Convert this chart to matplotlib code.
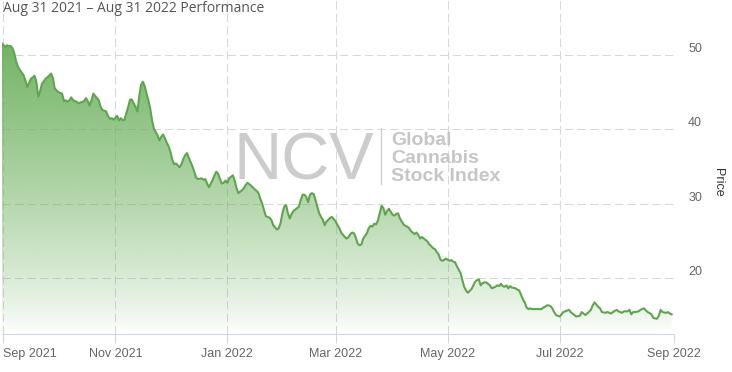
import numpy as np
import pandas as pd
import matplotlib
matplotlib.use("Agg")
import matplotlib.pyplot as plt
import matplotlib.dates as mdates
from matplotlib.patches import Polygon

# days after Aug 31 2021, one list row per stretch of the chart
day_offset = [
    0, 2, 3, 4, 5, 6, 7, 8, 9, 10, 12, 13, 14, 15, 16, 18, 19, 20, 21, 22, 24, 25, 27, 28, 29, 31, 33, 34, 35, 36,
    37, 38, 39, 41, 42, 43, 45, 46, 47, 48, 49, 50, 51, 52, 53, 54, 55, 57, 58, 59, 60, 61,
    63, 64, 65, 66, 67, 68, 69, 70, 71, 73, 74, 75, 76, 77, 78, 79, 80, 81, 82, 83, 85, 86, 87, 88, 89, 90, 91, 92,
    93, 94, 95, 97, 98, 99, 100, 101, 102, 103, 104, 105, 106, 107, 109, 110, 111, 112, 113, 114, 115, 116, 117,
    118, 119, 120, 121,
    122, 123, 124, 126, 127, 128, 129, 130, 131, 132, 133, 134, 135, 136, 138, 139, 140, 141, 142, 143, 144, 145,
    146, 147, 148, 150, 151, 152, 153, 154, 155, 156, 157, 158, 159, 160, 162, 163, 164, 165, 166, 167, 168, 169,
    170, 171, 172, 173, 175, 176, 177, 178, 179, 180, 181,
    182, 183, 184, 185, 187, 188, 189, 190, 191, 192, 193, 194, 195, 196, 197, 199, 200, 201, 202, 203, 204, 205,
    206, 207, 208, 209, 210, 211, 212, 213, 214, 215, 216, 217, 219, 220, 221, 222, 223, 224, 225, 226, 227, 228,
    229, 231, 232, 233, 234, 235, 236, 237, 238, 239, 240, 241,
    242, 244, 245, 246, 247, 248, 249, 250, 251, 252, 253, 254, 256, 257, 258, 259, 260, 261, 262, 263, 264, 265,
    266, 267, 269, 270, 271, 272, 273, 274, 275, 276, 277, 278, 280, 281, 282, 283, 284, 285, 286, 287, 288, 289,
    290, 292, 293, 294, 295, 296, 297, 298, 299, 300, 301, 302, 304,
    305, 306, 307, 309, 310, 312, 313, 315, 316, 318, 319, 321, 322, 323, 324, 325, 326, 327, 329, 330, 332, 333,
    335, 336, 338, 339, 341, 342, 343, 344, 345, 347, 348, 350, 351, 352, 354, 355, 357, 358, 359, 360, 362, 363,
    364, 365,
]

price = [
    51.6, 51.1, 51.3, 51.2, 51.2, 50.9, 50.2, 49.1, 48.4, 48.0, 47.3, 46.6, 45.7, 46.2, 46.8, 47.2, 46.4, 44.4, 45.1,
    46.1, 46.8, 47.0, 47.5, 46.9, 45.5, 45.0, 44.8, 43.8, 43.9, 43.7, 43.9, 44.3, 43.9, 43.7, 43.5, 43.6, 43.8,
    44.2, 43.8, 43.2, 43.9, 44.8, 44.5, 44.2, 43.9, 43.0, 42.6, 42.4, 41.8, 41.4, 41.5, 41.3,
    41.8, 41.2, 41.5, 41.2, 41.3, 42.2, 43.0, 44.0, 44.0, 43.0, 42.4, 44.4, 46.0, 46.4, 45.8, 44.8, 43.9, 42.8,
    41.2, 40.1, 39.2, 38.5, 39.0, 39.3, 38.8, 38.2, 37.7, 37.0, 35.9, 35.3, 35.4, 34.9, 35.3, 36.0, 36.5, 36.8,
    36.2, 35.6, 35.0, 34.3, 33.5, 33.3, 33.4, 33.2, 33.3, 32.7, 32.2, 32.7, 33.2, 33.8, 34.3, 34.0, 33.3, 32.7,
    32.8,
    33.1, 32.8, 33.4, 33.8, 33.1, 32.1, 31.4, 31.6, 31.8, 32.1, 32.5, 32.8, 32.6, 32.4, 31.9, 31.7, 31.4, 30.6,
    30.0, 29.1, 28.3, 28.2, 28.1, 27.8, 27.1, 26.5, 26.7, 27.4, 28.7, 29.6, 29.8, 28.7, 28.0, 28.6, 29.0, 29.2,
    29.6, 30.5, 31.2, 31.2, 30.9, 30.2, 31.2, 31.4, 31.3, 30.5, 29.6, 28.7, 27.8, 27.1, 27.6, 27.8, 28.1, 28.2,
    27.9,
    27.6, 27.1, 26.7, 26.1, 25.5, 25.3, 25.5, 25.9, 26.1, 26.0, 25.4, 24.6, 24.4, 24.5, 25.3, 26.0, 26.7, 27.0,
    26.9, 27.3, 27.2, 27.7, 28.7, 29.7, 29.4, 28.5, 29.0, 29.3, 28.9, 28.5, 28.4, 28.6, 28.7, 28.0, 27.2, 27.0,
    26.9, 26.7, 26.3, 26.1, 25.9, 26.1, 25.8, 25.3, 25.5, 25.1, 24.9, 24.5, 24.3, 24.0, 23.9, 23.5, 23.2, 22.5,
    22.3, 22.4,
    22.6, 22.3, 22.4, 22.2, 22.1, 21.6, 21.1, 20.7, 19.7, 18.8, 18.3, 18.0, 18.5, 19.0, 19.5, 19.7, 19.8, 19.0,
    19.3, 19.4, 19.4, 19.2, 19.0, 18.6, 18.8, 19.0, 18.9, 19.2, 18.9, 18.8, 19.0, 18.6, 18.9, 18.7, 18.6, 18.4,
    18.3, 17.7, 17.1, 16.7, 16.0, 15.8, 15.9, 15.8, 15.8, 15.8, 15.8, 15.8, 16.0, 16.1, 16.3, 16.3, 16.2, 15.9,
    15.4, 15.0, 14.8,
    15.1, 15.4, 15.5, 15.7, 15.4, 15.0, 14.8, 14.9, 15.4, 15.0, 15.2, 15.7, 16.3, 16.7, 16.4, 16.1, 15.9, 15.4,
    15.3, 15.4, 15.2, 15.4, 15.7, 15.5, 15.3, 15.5, 15.5, 15.7, 15.1, 15.4, 15.4, 15.5, 15.7, 15.9, 15.6, 15.4,
    15.1, 14.6, 14.5, 14.9, 15.7, 15.4, 15.3, 15.4, 15.2, 15.1,
]

price_ticks = [20, 30, 40, 50]
title_text = "Aug 31 2021 \u2013 Aug 31 2022 Performance"

start = pd.Timestamp("2021-08-31")
dates = start + pd.to_timedelta(day_offset, unit="D")
x = mdates.date2num(dates)
y = np.array(price)

W, H = 732, 372
fig = plt.figure(figsize=(W / 100, H / 100), dpi=100)
ax = fig.add_axes([1.5 / W, 38 / H, 672 / W, 334 / H])

x0 = mdates.date2num(start)
x1 = mdates.date2num(pd.Timestamp("2022-09-01"))
ylo, yhi = 12.45, 57.4

# gradient fill under the line
grad = np.linspace(0, 1, 256)
alpha = 0.9 * (1 - grad) ** 0.8
rgba = np.zeros((256, 1, 4))
rgba[..., 0] = 100 / 255
rgba[..., 1] = 172 / 255
rgba[..., 2] = 84 / 255
rgba[:, 0, 3] = alpha
im = ax.imshow(rgba, extent=[x0, x1, ylo, y.max()], aspect="auto", origin="upper", zorder=1)
verts = np.vstack([[x[0], ylo], np.column_stack([x, y]), [x[-1], ylo]])
clip = Polygon(verts, closed=True, facecolor="none", edgecolor="none")
ax.add_patch(clip)
im.set_clip_path(clip)

ax.plot(x, y, color="#5fa550", lw=1.5, solid_joinstyle="round", zorder=3)

ax.set_xlim(x0, x1)
ax.set_ylim(ylo, yhi)

# axes styling
for side in ["left", "right", "top"]:
    ax.spines[side].set_visible(False)
ax.spines["bottom"].set_color("#ccd6eb")
ax.spines["bottom"].set_linewidth(0.75)

ax.xaxis.set_major_locator(mdates.MonthLocator(bymonth=[1, 3, 5, 7, 9, 11]))
ax.xaxis.set_major_formatter(mdates.DateFormatter("%b %Y"))
ax.tick_params(axis="x", length=6.75, width=0.75, color="#ccd6eb", pad=3,
               labelsize=9, labelcolor="#666666")
xlabels = ax.get_xticklabels()
for lab in xlabels:
    lab.set_fontfamily("Liberation Sans")
# first label is pushed inside the chart, like the reference
xlabels[0].set_ha("left")

ax.yaxis.tick_right()
ax.set_yticks(price_ticks)
ax.tick_params(axis="y", length=0, pad=10.5, labelsize=9, labelcolor="#666666")
for lab in ax.get_yticklabels():
    lab.set_fontfamily("Liberation Sans")
    lab.set_va("bottom")

ax.grid(True, color="#d8d8d8", linestyle=(0, (8, 4)), linewidth=0.75, zorder=0)
ax.set_axisbelow(True)

# watermark
fig.text(233 / W, 1 - 180 / H, "NCV", fontsize=48, color="#cccccc",
         family="Liberation Sans", va="baseline", ha="left", zorder=0)
fig.add_artist(plt.Line2D([381 / W, 381 / W], [1 - 128 / H, 1 - 184 / H], color="#cccccc", lw=0.9))
for i, word in enumerate(["Global", "Cannabis", "Stock Index"]):
    fig.text(391 / W, 1 - (145 + 18 * i) / H, word, fontsize=14, fontweight="bold",
             color="#c6c6c6", family="Liberation Sans", va="baseline", ha="left")

fig.text(3 / W, 1 - 8 / H, title_text, fontsize=10, color="#555555",
         family="Open Sans", va="center", ha="left")
fig.text(718 / W, 1 - 182 / H, "Price", fontsize=9, color="#333333", rotation=270,
         family="Liberation Sans", va="center", ha="center")

fig.savefig("out.png", dpi=100)
